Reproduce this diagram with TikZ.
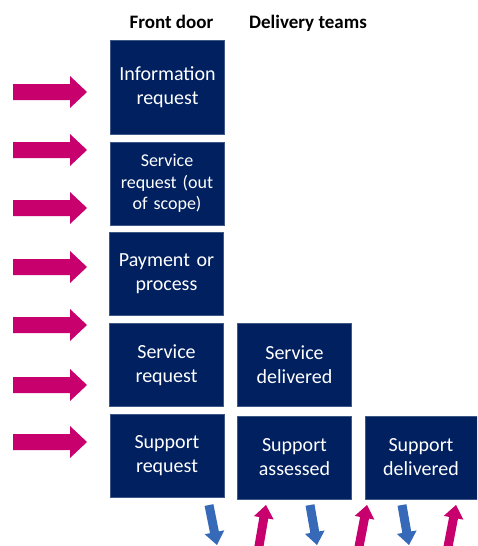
\documentclass[tikz,border=0pt]{standalone}
\usepackage{fontspec}
\setmainfont{Carlito}
\usetikzlibrary{calc}
\definecolor{navy}{RGB}{0,32,96}
\definecolor{pinkarrow}{RGB}{200,0,110}
\definecolor{bluearrow}{RGB}{55,105,185}
% color, tail, tip, half shaft, half head, head length
\newcommand\fatarrow[6]{%
  \coordinate (hb) at ($(#3)!#6!(#2)$);
  \fill[#1] ($(#2)!#4!90:(#3)$) -- ($(hb)!#4!90:(#3)$) -- ($(hb)!#5!90:(#3)$) -- (#3)
    -- ($(hb)!#5!-90:(#3)$) -- ($(hb)!#4!-90:(#3)$) -- ($(#2)!#4!-90:(#3)$) -- cycle;}
\tikzset{
  box/.style={fill=navy, draw=navy!75!white, line width=0.6pt, text=white,
    font=\fontsize{20}{24}\selectfont, align=center, minimum width=114pt,
    minimum height=83pt, inner sep=0pt, text width=110pt},
  header/.style={font=\fontsize{19}{22}\selectfont\bfseries, anchor=base, inner sep=0pt}
}
\begin{document}
\begin{tikzpicture}[x=1pt,y=-1pt]
\useasboundingbox (0,0) rectangle (477,546);
\clip (0,0) rectangle (477,546);
\node[header] (hfront) at (171.5,28) {Front door};
\node[header] (hdeliv) at (308,28) {Delivery teams};

\node[box, minimum height=94pt] (info) at (167.5,87) {Information\\request};
\node[box, font=\fontsize{18}{21.5}\selectfont] (oos) at (167,183.5) {Service\\request (out\\of scope)};
\node[box] (pay) at (166.5,274) {Payment or\\process};
\node[box] (sreq) at (166.5,365) {Service\\request};
\node[box] (supreq) at (167,455.5) {Support\\request};
\node[box] (sdel) at (294.5,365) {Service\\delivered};
\node[box] (sass) at (294.5,457.5) {Support\\assessed};
\node[box, minimum width=112pt] (supdel) at (421,457.5) {Support\\delivered};

\foreach \yy in {92,150,208,267,325,385,442}{
  \fatarrow{pinkarrow}{13,\yy}{87,\yy}{8pt}{16pt}{17pt}
}
\fatarrow{bluearrow}{209,505}{217,545}{4.5pt}{10pt}{13pt}
\fatarrow{bluearrow}{310,505}{317,545}{4.5pt}{10pt}{13pt}
\fatarrow{bluearrow}{402,505}{409,545}{4.5pt}{10pt}{13pt}
\fatarrow{pinkarrow}{258,552}{266,505}{4.5pt}{10pt}{13pt}
\fatarrow{pinkarrow}{358,552}{367,505}{4.5pt}{10pt}{13pt}
\fatarrow{pinkarrow}{447,552}{456,505}{4.5pt}{10pt}{13pt}
\end{tikzpicture}
\end{document}
